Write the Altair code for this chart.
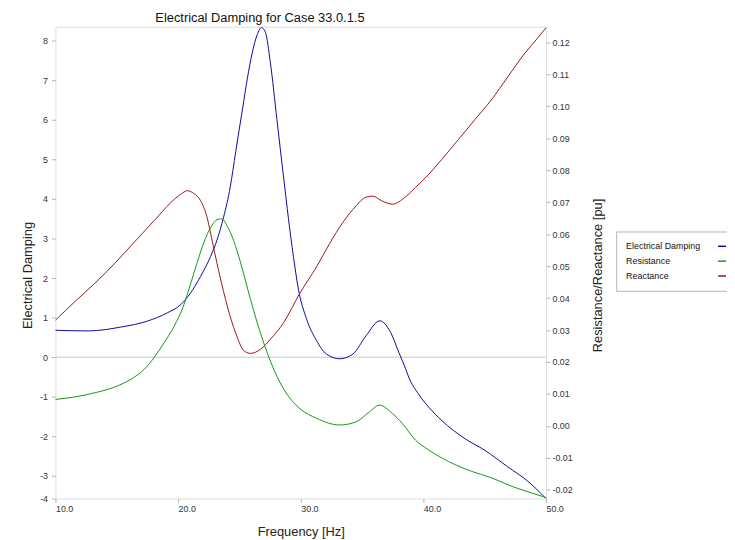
import altair as alt
import pandas as pd

FONT = "Liberation Sans"

title_text = "Electrical Damping for Case 33.0.1.5"
series_names = ["Electrical Damping", "Resistance", "Reactance"]
series_colors = ["#0a0a9c", "#119a11", "#a01414"]

# Electrical Damping (left axis)
damp_freq = [10.0, 12.69, 15.38, 17.52, 19.14, 20.22, 21.02, 21.83, 22.64, 23.17, 23.71, 24.25,
             24.7, 25.24, 25.65, 26.05, 26.45, 26.8, 27.12, 27.52, 28.06, 28.6, 29.0, 29.4,
             29.81, 30.48, 31.29, 32.1, 33.17, 34.25, 35.32, 36.45, 37.34, 38.0, 38.55, 38.8,
             39.6, 40.43, 41.5, 43.4, 45.0, 46.88, 48.5, 50.0]
damp_val = [0.68, 0.665, 0.765, 0.915, 1.125, 1.33, 1.625, 2.04, 2.54, 2.96, 3.54, 4.3,
            5.2, 6.25, 7.05, 7.7, 8.15, 8.33, 8.21, 7.45, 6.0, 4.55, 3.5, 2.55,
            1.72, 0.96, 0.42, 0.08, -0.04, 0.08, 0.54, 0.92, 0.62, 0.12, -0.29, -0.5,
            -0.93, -1.26, -1.6, -2.06, -2.35, -2.77, -3.13, -3.57]

# Resistance (right axis)
res_freq = [10.0, 11.61, 13.23, 14.84, 16.19, 17.26, 18.06, 18.87, 19.68, 20.48, 21.02, 21.56,
            22.1, 22.64, 23.17, 23.57, 23.98, 24.52, 25.1, 25.91, 26.72, 27.52, 28.6, 29.94,
            31.29, 33.17, 34.52, 35.59, 36.4, 37.48, 38.28, 39.35, 40.43, 42.04, 43.93,
            45.54, 47.15, 48.77, 50.0]
res_val = [0.0083, 0.0091, 0.0104, 0.0122, 0.0147, 0.0178, 0.0215, 0.0261, 0.0312, 0.0380,
           0.0445, 0.0512, 0.0574, 0.0620, 0.0645, 0.0648, 0.0627, 0.0581, 0.0510, 0.0395,
           0.0290, 0.0203, 0.0116, 0.0054, 0.0024, 0.0003, 0.0013, 0.0044, 0.0065, 0.0039,
           0.0008, -0.0044, -0.0075, -0.0111, -0.0142, -0.0162, -0.0188, -0.0209, -0.0224]

# Reactance (right axis)
reac_freq = [10.0, 11.61, 13.23, 14.84, 16.45, 18.06, 19.41, 20.22, 20.75, 21.29, 21.83, 22.36,
             22.77, 23.17, 23.71, 24.03, 24.7, 25.38, 25.91, 26.72, 27.52, 28.6, 29.94, 31.29,
             32.36, 33.44, 34.52, 35.32, 35.86, 36.67, 37.48, 38.55, 39.35, 40.43, 41.5,
             42.85, 44.19, 45.54, 46.88, 48.23, 49.3, 50.0]
reac_val = [0.0331, 0.0390, 0.0447, 0.0509, 0.0576, 0.0643, 0.0699, 0.0725, 0.0736, 0.0727,
            0.0705, 0.0653, 0.0581, 0.0509, 0.0420, 0.0372, 0.0290, 0.0235, 0.0227, 0.0240,
            0.0271, 0.0323, 0.0416, 0.0498, 0.0571, 0.0637, 0.0689, 0.0716, 0.0719, 0.0703,
            0.0694, 0.0717, 0.0746, 0.0787, 0.0834, 0.0896, 0.0958, 0.1020, 0.1092, 0.1164,
            0.1213, 0.1246]

x_ticks = [10, 20, 30, 40, 50]
left_ticks = [-3, -2, -1, 0, 1, 2, 3, 4, 5, 6, 7, 8]
right_ticks = [-0.02, -0.01, 0.0, 0.01, 0.02, 0.03, 0.04, 0.05, 0.06, 0.07, 0.08, 0.09,
               0.10, 0.11, 0.12]
left_domain = [-3.57, 8.35]
right_domain = [-0.0227, 0.1249]

damp_df = pd.DataFrame({"f": damp_freq, "v": damp_val, "series": series_names[0]})
rr_df = pd.concat([
    pd.DataFrame({"f": res_freq, "r": res_val, "series": series_names[1]}),
    pd.DataFrame({"f": reac_freq, "r": reac_val, "series": series_names[2]}),
])
zero_df = pd.DataFrame({"v": [0]})

axis_common = dict(
    labelFont=FONT, labelFontSize=9, labelColor="#333333",
    tickColor="#b4b4b4", tickSize=4, domain=False, grid=False,
    titleFont=FONT, titleFontSize=13, titleFontWeight="normal", titleColor="#222222",
)

x_enc = alt.X(
    "f:Q",
    scale=alt.Scale(domain=[10, 50], nice=False, zero=False),
    axis=alt.Axis(values=x_ticks, format=".1f", title="Frequency [Hz]", labelAlign="left",
                  labelPadding=2, labelOverlap=False, labelFlush=False,
                  titleY=33, titleBaseline="middle", **axis_common),
)

left_y = alt.Y(
    "v:Q",
    scale=alt.Scale(domain=left_domain, nice=False, zero=False),
    axis=alt.Axis(orient="left", values=[left_domain[0]] + left_ticks,
                  labelExpr="datum.value < -3.5 ? '-4' : '' + datum.value",
                  labelPadding=4, labelOverlap=False, labelFlush=False,
                  title="Electrical Damping", titleAngle=270, titleX=-28, titleY=251,
                  titleBaseline="middle", titleAlign="center", **axis_common),
)

right_y = alt.Y(
    "r:Q",
    scale=alt.Scale(domain=right_domain, nice=False, zero=False),
    axis=alt.Axis(orient="right", values=right_ticks,
                  labelExpr="replace(format(datum.value, '.2f'), '\u2212', '-')",
                  labelPadding=2, labelOverlap=False, labelFlush=False,
                  title="Resistance/Reactance [pu]", titleAngle=270, titleX=52, titleY=251,
                  titleBaseline="middle", titleAlign="center", **axis_common),
)

color_enc = alt.Color(
    "series:N",
    scale=alt.Scale(domain=series_names, range=series_colors),
    legend=alt.Legend(title=None, orient="none", legendX=567, legendY=207,
                      symbolType="stroke", symbolSize=64, symbolStrokeWidth=1.5,
                      symbolOffset=92, labelOffset={"expr": "-102"}, labelFontSize=9,
                      labelFont=FONT, labelColor="#111111", padding=10, rowPadding=5,
                      strokeColor="#b4b4b4", fillColor="white", cornerRadius=0,
                      labelLimit=200),
)

zero_rule = alt.Chart(zero_df).mark_rule(color="#c8c8c8", strokeWidth=1).encode(y=left_y)

damp_line = alt.Chart(damp_df).mark_line(strokeWidth=1, interpolate="monotone").encode(
    x=x_enc, y=left_y, color=color_enc
)

rr_lines = alt.Chart(rr_df).mark_line(strokeWidth=1, interpolate="monotone").encode(
    x=x_enc, y=right_y, color=color_enc
)

chart = (
    alt.layer(alt.layer(zero_rule, damp_line), rr_lines)
    .resolve_scale(y="independent")
    .properties(
        width=496, height=477,
        autosize=alt.AutoSizeParams(type="none"),
        padding={"left": 48, "top": 16, "right": 183, "bottom": 40},
        title=alt.TitleParams(text=title_text, anchor="start", dx=101, dy=16, offset=7,
                              fontSize=13, fontWeight="normal", font=FONT, color="#111111",
                              baseline="alphabetic", frame="group"),
    )
    .configure_view(stroke="#c0c0c0", strokeWidth=1)
    .configure(background="white")
)

chart.save("out.html", embed_options={"renderer": "svg", "actions": False})
